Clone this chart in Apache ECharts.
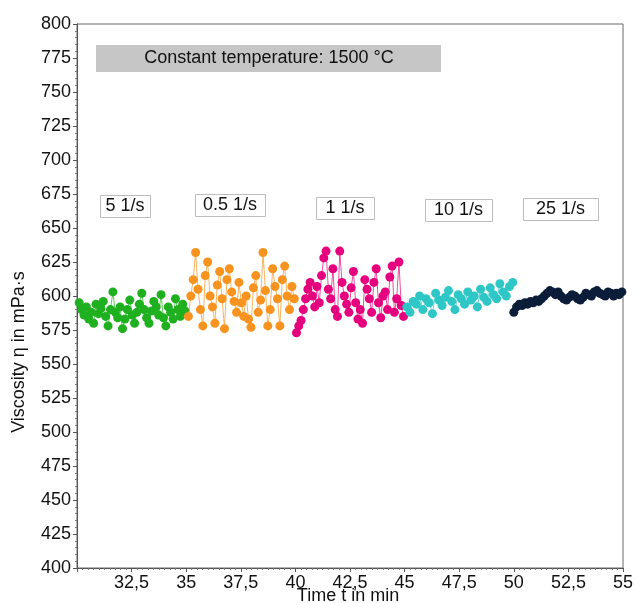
<!DOCTYPE html>
<html>
<head>
<meta charset="utf-8">
<script src="https://cdn.jsdelivr.net/npm/echarts@6/dist/echarts.min.js"></script>
<style>
  html, body { margin: 0; padding: 0; background: #fff; }
  #chart { width: 636px; height: 603px; }
</style>
</head>
<body>
<div id="chart"></div>
<script>
// shear rate steps, each one 5 min long
var stepNames = ['5 1/s', '0.5 1/s', '1 1/s', '10 1/s', '25 1/s'];
var stepStart = [30.1, 35.1, 40.05, 45.1, 50.0];
var stepEnd = [34.95, 39.95, 44.95, 49.95, 54.95];
var stepColors = ['#1fb01f', '#f7931e', '#e5007d', '#2fc6c6', '#0c1d3a'];

// viscosity readings in mPa·s
var rate5 = [595, 590, 586, 592, 583, 588, 580, 594, 587, 591, 596, 585, 578, 590, 603, 588, 584, 592, 576, 583, 590, 597, 586, 580, 588, 594, 602, 590, 584, 580, 589, 596, 592, 586, 601, 584, 578, 592, 588, 583, 598, 590, 585, 594, 589];
var rate05 = [585, 600, 612, 632, 605, 590, 578, 615, 625, 600, 592, 580, 608, 618, 598, 576, 612, 620, 603, 596, 588, 610, 595, 585, 600, 583, 577, 606, 615, 588, 597, 632, 604, 578, 590, 620, 607, 598, 578, 612, 622, 600, 590, 607, 598];
var rate1 = [573, 578, 582, 590, 598, 605, 610, 600, 592, 607, 595, 615, 628, 633, 605, 598, 620, 590, 585, 633, 610, 600, 594, 588, 606, 618, 595, 583, 590, 580, 612, 605, 598, 588, 610, 620, 595, 584, 600, 603, 590, 614, 622, 588, 598, 625, 593, 585];
var rate10 = [592, 588, 596, 594, 600, 590, 598, 595, 587, 602, 597, 593, 599, 604, 596, 590, 601, 598, 594, 603, 597, 600, 592, 605, 599, 596, 606, 601, 598, 609, 603, 600, 607, 610];
var rate25 = [588, 592, 594, 593, 595, 594, 596, 595, 597, 596, 598, 600, 602, 604, 603, 601, 603, 600, 598, 597, 599, 601, 600, 598, 597, 599, 602, 601, 600, 603, 604, 602, 601, 600, 603, 602, 600, 602, 601, 603];
var allRates = [rate5, rate05, rate1, rate10, rate25];

var xMin = 30, xMax = 55, xStep = 2.5;
var yMin = 400, yMax = 800, yStep = 25;

// readings are taken at even intervals inside each step
function withTime(vals, t0, t1) {
  var dt = (t1 - t0) / (vals.length - 1);
  return vals.map(function (v, i) { return [t0 + i * dt, v]; });
}

var series = allRates.map(function (vals, k) {
  return {
    name: stepNames[k],
    type: 'line',
    data: withTime(vals, stepStart[k], stepEnd[k]),
    symbol: 'circle',
    symbolSize: 9,
    lineStyle: { width: 1, color: stepColors[k], opacity: 0.7 },
    itemStyle: { color: stepColors[k] },
    z: 3 + k
  };
});

var labelBoxes = [
  { text: stepNames[0], x: 100, y: 195, w: 50 },
  { text: stepNames[1], x: 195, y: 194, w: 70 },
  { text: stepNames[2], x: 316, y: 197, w: 58 },
  { text: stepNames[3], x: 425, y: 199, w: 67 },
  { text: stepNames[4], x: 523, y: 198, w: 75 }
];

var font18 = '18px "Liberation Sans", Arial, sans-serif';
var graphics = [
  {
    type: 'rect', left: 96, top: 45,
    shape: { width: 345, height: 27 },
    style: { fill: '#c6c6c6' }
  },
  {
    type: 'text', x: 269, y: 58,
    style: { text: 'Constant temperature: 1500 °C', font: font18, fill: '#111', align: 'center', verticalAlign: 'middle' }
  },
  {
    type: 'text', x: 19, y: 352, rotation: Math.PI / 2,
    style: { text: 'Viscosity η in mPa·s', font: font18, fill: '#111', align: 'center', verticalAlign: 'middle' }
  },
  {
    type: 'text', x: 348, y: 596,
    style: { text: 'Time t in min', font: font18, fill: '#111', align: 'center', verticalAlign: 'middle' }
  }
];
labelBoxes.forEach(function (b) {
  graphics.push({
    type: 'rect', left: b.x, top: b.y,
    shape: { width: b.w, height: 22 },
    style: { fill: '#fff', stroke: '#bdbdbd', lineWidth: 1 }
  });
  graphics.push({
    type: 'text', x: b.x + b.w / 2, y: b.y + 11,
    style: { text: b.text, font: font18, fill: '#111', align: 'center', verticalAlign: 'middle' }
  });
});

var chart = echarts.init(document.getElementById('chart'));
var option = {
  animation: false,
  backgroundColor: '#fff',
  grid: {
    left: 77, right: 13, top: 24, bottom: 35,
    outerBoundsMode: 'none',
    containLabel: false,
    show: true, borderColor: '#666', borderWidth: 1
  },
  xAxis: {
    type: 'value',
    min: xMin, max: xMax, interval: xStep,
    axisLine: { lineStyle: { color: '#555' } },
    axisTick: { inside: false, length: 4, lineStyle: { color: '#555' } },
    minorTick: { show: true, splitNumber: 10, length: 2, lineStyle: { color: '#777' } },
    splitLine: { show: false },
    axisLabel: {
      fontSize: 18, color: '#111', fontFamily: 'Liberation Sans', margin: 6,
      formatter: function (v) { return v === xMin ? '' : String(v).replace('.', ','); }
    }
  },
  yAxis: {
    type: 'value',
    min: yMin, max: yMax, interval: yStep,
    axisLine: { show: true, lineStyle: { color: '#555' } },
    axisTick: { inside: false, length: 4, lineStyle: { color: '#555' } },
    minorTick: { show: true, splitNumber: 5, length: 2, lineStyle: { color: '#777' } },
    splitLine: { show: false },
    axisLabel: { fontSize: 18, color: '#111', fontFamily: 'Liberation Sans', margin: 6 }
  },
  graphic: graphics,
  series: series
};
chart.setOption(option);
</script>
</body>
</html>
